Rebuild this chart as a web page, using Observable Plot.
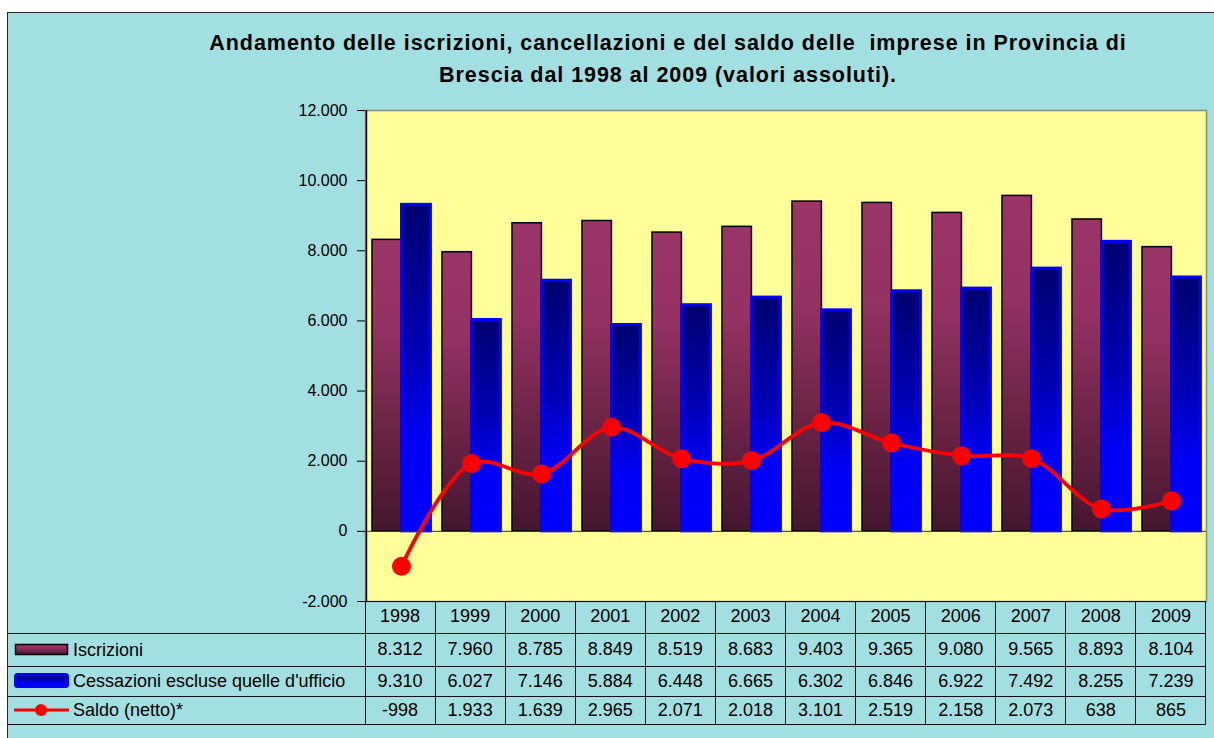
<!DOCTYPE html>
<html><head><meta charset="utf-8">
<script src="https://cdn.jsdelivr.net/npm/d3@7"></script>
<script src="https://cdn.jsdelivr.net/npm/@observablehq/plot@0.6"></script>
<style>
html,body{margin:0;padding:0;background:#fff;}
#page{position:relative;width:1214px;height:738px;overflow:hidden;font-family:"Liberation Sans",Arial,sans-serif;color:#000;}
#frame{position:absolute;left:7px;top:12px;width:1240px;height:780px;background:#a2dfe0;border:1.5px solid #2a2a2a;box-sizing:border-box;}
#title{position:absolute;left:118px;width:1100px;top:28px;text-align:center;font-weight:bold;font-size:21.5px;letter-spacing:0.95px;line-height:31.5px;white-space:pre;}
#chart{position:absolute;left:0;top:95px;}
#tbl{position:absolute;left:8px;top:601px;border-collapse:collapse;table-layout:fixed;width:1198px;font-size:18px;}
#tbl td{border:1px solid #111;text-align:center;padding:0;white-space:nowrap;overflow:visible;}
#tbl tr.hd td{border-top:none;}
#tbl tr.hd td.blank{border:none;border-bottom:1px solid #111;}
#tbl td.lg{text-align:left;padding-left:6px;border-left:none;}
#tbl td.lg svg{vertical-align:middle;margin-right:3px;}
#tbl td.lg span{vertical-align:middle;}
</style></head>
<body>
<div id="page">
<svg width="0" height="0" style="position:absolute">
  <defs>
    <linearGradient id="gMaroon" x1="0" y1="0" x2="0" y2="1">
      <stop offset="0" stop-color="#9a3567"/>
      <stop offset="0.3" stop-color="#943263"/>
      <stop offset="0.65" stop-color="#6c2446"/>
      <stop offset="1" stop-color="#44162f"/>
    </linearGradient>
    <linearGradient id="gBlue" x1="0" y1="0" x2="0" y2="1">
      <stop offset="0" stop-color="#00006e"/>
      <stop offset="0.45" stop-color="#0000b4"/>
      <stop offset="0.72" stop-color="#0000f6"/>
      <stop offset="1" stop-color="#0000ff"/>
    </linearGradient>
  </defs>
</svg>
<div id="frame"></div>
<div id="title">Andamento delle iscrizioni, cancellazioni e del saldo delle  imprese in Provincia di
Brescia dal 1998 al 2009 (valori assoluti).</div>
<div id="chart"></div>
<table id="tbl"></table>
</div>
<script>
const years = ["1998","1999","2000","2001","2002","2003","2004","2005","2006","2007","2008","2009"];
const iscrizioni = [8312,7960,8785,8849,8519,8683,9403,9365,9080,9565,8893,8104];
const cessazioni = [9310,6027,7146,5884,6448,6665,6302,6846,6922,7492,8255,7239];
const saldo = [-998,1933,1639,2965,2071,2018,3101,2519,2158,2073,638,865];
const yTicks = [-2000,0,2000,4000,6000,8000,10000,12000];
const seriesNames = ["Iscrizioni","Cessazioni escluse quelle d'ufficio","Saldo (netto)*"];

const itLocale = d3.formatLocale({decimal: ",", thousands: ".", grouping: [3], currency: ["€", ""], minus: "-"});
const fmt = itLocale.format(",d");

const rows = years.map((year, i) => ({year, isc: iscrizioni[i], ces: cessazioni[i], sal: saldo[i]}));

const W = 1214, H = 511;
const mL = 365, mR = 8, mT = 15, mB = 5;
const bw = (W - mL - mR) / years.length;

const chart = Plot.plot({
  width: W,
  height: H,
  marginLeft: mL,
  marginRight: mR,
  marginTop: mT,
  marginBottom: mB,
  style: {background: "transparent", fontFamily: "'Liberation Sans', Arial, sans-serif", fontSize: "16px", color: "#000", overflow: "visible"},
  x: {domain: years, padding: 0, axis: null},
  y: {domain: [-2000, 12000]},
  marks: [
    Plot.frame({fill: "#ffff99", stroke: "#8a8a8a", strokeWidth: 1.5}),
    Plot.axisY({ticks: yTicks, tickFormat: fmt, tickSize: 8, tickPadding: 10, fontSize: 16, label: null, color: "#000"}),
    Plot.ruleY([-2000], {stroke: "#111", strokeWidth: 1}),
    Plot.barY(rows, {x: "year", y: "isc", fill: "url(#gMaroon)", stroke: "#000", strokeWidth: 1.5, insetLeft: 6, insetRight: bw - 35.5}),
    Plot.barY(rows, {x: "year", y: "ces", fill: "url(#gBlue)", stroke: "#0000ff", strokeWidth: 3, insetLeft: 35.5, insetRight: 5.6}),
    Plot.ruleY([0], {stroke: "#333", strokeWidth: 1}),
    Plot.ruleX([years[0]], {y1: -2000, y2: 12000, dx: -bw / 2, stroke: "#000", strokeWidth: 1.5}),
    Plot.line(rows, {x: "year", y: "sal", curve: "catmull-rom", stroke: "#ff0000", strokeWidth: 3.8}),
    Plot.dot(rows, {x: "year", y: "sal", r: 9.5, fill: "#ff0000", stroke: "none"})
  ]
});
document.getElementById("chart").appendChild(chart);

// data table (legend + values)
const tbl = document.getElementById("tbl");
const cg = document.createElement("colgroup");
const c0 = document.createElement("col"); c0.style.width = "357px"; cg.appendChild(c0);
years.forEach(() => { const c = document.createElement("col"); c.style.width = bw + "px"; cg.appendChild(c); });
tbl.appendChild(cg);

const hd = document.createElement("tr"); hd.className = "hd"; hd.style.height = "32px";
const blank = document.createElement("td"); blank.className = "blank"; hd.appendChild(blank);
years.forEach(y => { const td = document.createElement("td"); td.textContent = y; hd.appendChild(td); });
tbl.appendChild(hd);

const symbols = [
  `<svg width="56" height="14"><rect x="1.5" y="1.5" width="52" height="10" fill="url(#gMaroon)" stroke="#000" stroke-width="1.5"/></svg>`,
  `<svg width="56" height="16"><rect x="1.5" y="1.5" width="52" height="12" rx="2" fill="url(#gBlue)" stroke="#0000ff" stroke-width="3"/></svg>`,
  `<svg width="56" height="14"><line x1="0" y1="7" x2="55" y2="7" stroke="#ff0000" stroke-width="3"/><circle cx="27" cy="7" r="6" fill="#ff0000"/></svg>`
];
const seriesVals = [iscrizioni, cessazioni, saldo];
const rowHeights = ["33px", "30px", "28px"];
seriesNames.forEach((name, k) => {
  const tr = document.createElement("tr"); tr.style.height = rowHeights[k];
  const lg = document.createElement("td"); lg.className = "lg";
  lg.innerHTML = symbols[k] + `<span>${name}</span>`;
  tr.appendChild(lg);
  seriesVals[k].forEach(v => { const td = document.createElement("td"); td.textContent = fmt(v); tr.appendChild(td); });
  tbl.appendChild(tr);
});
</script>
</body></html>
